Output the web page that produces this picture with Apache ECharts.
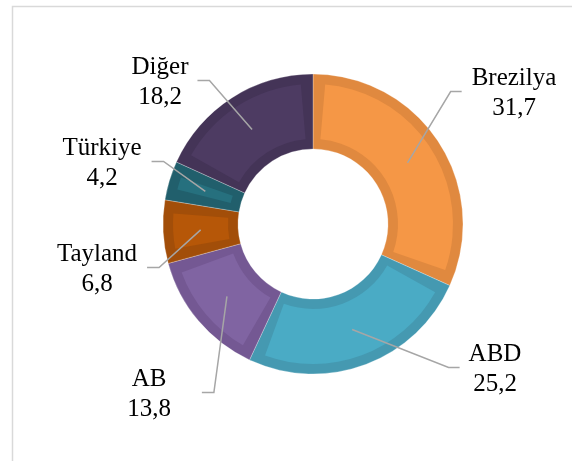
<!DOCTYPE html>
<html>
<head>
<meta charset="utf-8">
<script src="https://cdn.jsdelivr.net/npm/echarts@6/dist/echarts.min.js"></script>
<style>
  html, body { margin: 0; padding: 0; background: #fff; }
  #chart { width: 572px; height: 461px; }
</style>
</head>
<body>
<div id="chart"></div>
<script>
const countries = ['Brezilya', 'ABD', 'AB', 'Tayland', 'Türkiye', 'Diğer'];
const shares = [31.7, 25.2, 13.8, 6.8, 4.2, 18.2];

const fillColors = ['#F59746', '#4AABC5', '#8064A2', '#B65708', '#26707E', '#4D3B62'];
const edgeColors = ['#E0893F', '#4599B1', '#745893', '#A24E09', '#215F6C', '#443457'];

// label text centre x, y and gap between text and leader line end (layout only)
const labelBoxes = [
  [514, 93, 10],
  [495, 369, 9],
  [149, 394, 31],
  [97, 269, 10],
  [102, 163, 10],
  [160, 82, 9]
];

const chart = echarts.init(document.getElementById('chart'));

const center = [313, 224];

const pieData = (colors) => countries.map((name, i) => ({
  name: name,
  value: shares[i],
  itemStyle: { color: colors ? colors[i] : 'rgba(0,0,0,0)' }
}));

chart.setOption({
  animation: false,
  graphic: [{
    type: 'rect',
    shape: { x: 12.5, y: 6.5, width: 620, height: 520 },
    style: { fill: 'none', stroke: '#D9D9D9', lineWidth: 1.5 },
    silent: true
  }],
  series: [
    {
      // outer darker rim of each slice
      type: 'pie',
      z: 2,
      center: center,
      radius: [75, 150],
      startAngle: 90,
      silent: true,
      label: { show: false },
      labelLine: { show: false },
      itemStyle: { borderColor: 'rgba(255,255,255,0.45)', borderWidth: 0.6 },
      data: pieData(edgeColors)
    },
    {
      // lighter inner face
      type: 'pie',
      z: 3,
      center: center,
      radius: [85, 140],
      startAngle: 90,
      padAngle: 10,
      silent: true,
      label: { show: false },
      labelLine: { show: false },
      data: pieData(fillColors)
    },
    {
      // invisible pie only used for labels and leader lines
      type: 'pie',
      z: 6,
      center: center,
      radius: [0, 112.5],
      startAngle: 90,
      silent: true,
      avoidLabelOverlap: false,
      label: {
        show: true,
        position: 'outside',
        fontFamily: 'Liberation Serif',
        fontSize: 25,
        lineHeight: 30,
        color: '#000',
        formatter: (p) => p.name + '\n' + String(p.value).replace('.', ',')
      },
      labelLine: {
        show: true,
        length: 20,
        length2: 12,
        lineStyle: { color: '#A6A6A6', width: 1.5 }
      },
      labelLayout: (params) => {
        const box = labelBoxes[params.dataIndex];
        const w = params.labelRect.width;
        const onRight = box[0] > center[0];
        const ex = onRight ? box[0] - w / 2 - box[2] : box[0] + w / 2 + box[2];
        const ey = box[1] - 1.5;
        const bend = onRight ? ex - 11 : ex + 12;
        const start = params.labelLinePoints ? params.labelLinePoints[0] : [ex, ey];
        return {
          x: box[0],
          y: box[1],
          align: 'center',
          verticalAlign: 'middle',
          labelLinePoints: [start, [bend, ey], [ex, ey]]
        };
      },
      data: pieData(null)
    }
  ]
});
</script>
</body>
</html>
